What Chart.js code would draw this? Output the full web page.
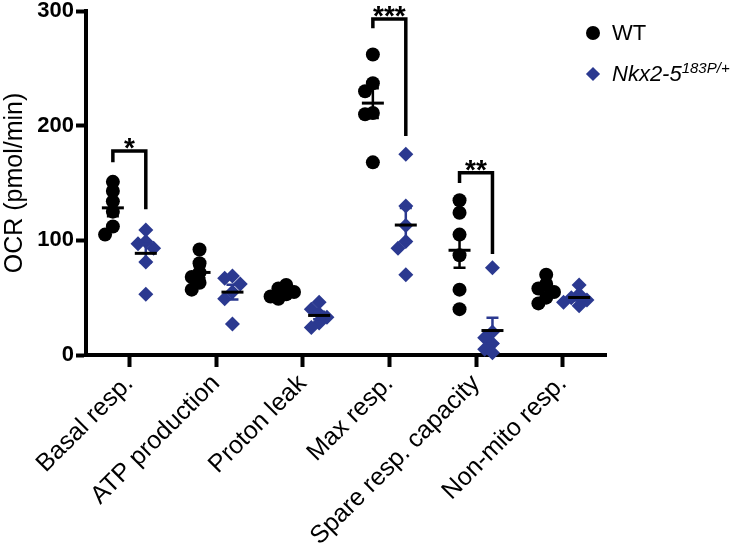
<!DOCTYPE html>
<html>
<head>
<meta charset="utf-8">
<script src="https://cdn.jsdelivr.net/npm/chart.js@4/dist/chart.umd.min.js"></script>
<style>
  body { margin: 0; background: #fff; }
  #wrap { position: relative; width: 742px; height: 549px; }
  #legend { font-family: "Liberation Sans", Arial, sans-serif; color: #000; }
  .mark { position: absolute; }
  .txt { position: absolute; font-size: 22px; line-height: 22px; white-space: nowrap; }
  .txt sup { font-size: 15px; vertical-align: 8px; line-height: 0; }
</style>
</head>
<body>
<div id="wrap">
  <canvas id="myChart" width="742" height="549"></canvas>
  <div id="legend">
    <div class="mark" style="left:586px;top:26px;width:14px;height:14px;border-radius:50%;background:#000;"></div>
    <div class="txt" style="left:612px;top:22px;">WT</div>
    <div class="mark" style="left:588px;top:69px;width:10px;height:10px;background:#2b3990;transform:rotate(45deg);"></div>
    <div class="txt" style="left:612px;top:63px;"><i>Nkx2-5</i><sup><i>183P/+</i></sup></div>
  </div>
</div>
<script>
const categories = ["Basal resp.", "ATP production", "Proton leak", "Max resp.", "Spare resp. capacity", "Non-mito resp."];
const wtValues = [
  [151, 143, 134, 125, 112, 105],
  [92, 80, 72, 68, 63, 57],
  [61, 58, 55, 53, 51, 49],
  [262, 237, 230, 211, 210, 168],
  [135, 124, 105, 87, 57, 40],
  [70, 62, 58, 55, 50, 45]
];
const mutValues = [
  [109, 99, 97, 93, 81, 53],
  [69, 67, 62, 55, 49, 27],
  [46, 40, 36, 33, 28, 24],
  [175, 130, 113, 99, 93, 70],
  [76, 20, 15, 10, 5, 2],
  [61, 53, 50, 48, 46, 43]
];
const yTicks = [0, 100, 200, 300];

// significance brackets
const sigCategory = [0, 3, 4];
const sigLabels = ["*", "***", "**"];
const sigTop = [178, 293, 159];
const sigLeftEnd = [168, 285, 150];
const sigRightEnd = [127, 191, 88];

const blue = "#2b3990";
const font = "'Liberation Sans', Arial, sans-serif";
const groupOffset = 0.19;

const mean = a => a.reduce((s, v) => s + v, 0) / a.length;
const sem = a => {
  const m = mean(a);
  const sd = Math.sqrt(a.reduce((s, v) => s + (v - m) * (v - m), 0) / (a.length - 1));
  return sd / Math.sqrt(a.length);
};

// simple beeswarm so overlapping dots spread sideways
function swarm(values, center) {
  const placed = [];
  return values.map(v => {
    for (const s of [0, -1, 1, -2, 2]) {
      const x = center + s * 0.09;
      const hit = placed.some(p => Math.abs(p.y - v) < 8 && Math.abs(p.x - x) < 0.05);
      if (!hit) { placed.push({x: x, y: v}); return {x: x, y: v}; }
    }
    return {x: center, y: v};
  });
}

const wtPoints = wtValues.flatMap((arr, i) => swarm(arr, i - groupOffset));
const mutPoints = mutValues.flatMap((arr, i) => swarm(arr, i + groupOffset));

const statsPlugin = {
  id: 'stats',
  afterDatasetsDraw(chart) {
    const {ctx, scales: {x, y}} = chart;
    ctx.save();
    ctx.lineCap = 'butt';
    [[wtValues, -groupOffset, '#000'], [mutValues, groupOffset, blue]].forEach(([vals, off, col]) => {
      vals.forEach((arr, i) => {
        const m = mean(arr), s = sem(arr);
        const px = x.getPixelForValue(i + off);
        const top = y.getPixelForValue(m + s), bot = y.getPixelForValue(m - s);
        ctx.strokeStyle = col;
        ctx.lineWidth = 2.5;
        ctx.beginPath();
        ctx.moveTo(px, top); ctx.lineTo(px, bot);
        ctx.moveTo(px - 6, top); ctx.lineTo(px + 6, top);
        ctx.moveTo(px - 6, bot); ctx.lineTo(px + 6, bot);
        ctx.stroke();
        ctx.strokeStyle = '#000';
        ctx.lineWidth = 3;
        ctx.beginPath();
        const my = y.getPixelForValue(m);
        ctx.moveTo(px - 11, my); ctx.lineTo(px + 11, my);
        ctx.stroke();
      });
    });
    // brackets
    ctx.strokeStyle = '#000';
    ctx.lineWidth = 3.5;
    ctx.lineJoin = 'miter';
    ctx.fillStyle = '#000';
    ctx.font = "bold 28px " + font;
    ctx.textAlign = 'center';
    ctx.textBaseline = 'alphabetic';
    sigCategory.forEach((c, k) => {
      const xl = x.getPixelForValue(c - groupOffset);
      const xr = x.getPixelForValue(c + groupOffset);
      const yt = y.getPixelForValue(sigTop[k]);
      ctx.beginPath();
      ctx.moveTo(xl, y.getPixelForValue(sigLeftEnd[k]));
      ctx.lineTo(xl, yt);
      ctx.lineTo(xr, yt);
      ctx.lineTo(xr, y.getPixelForValue(sigRightEnd[k]));
      ctx.stroke();
      ctx.fillText(sigLabels[k], (xl + xr) / 2, yt + 6);
    });
    ctx.restore();
  }
};

new Chart(document.getElementById('myChart'), {
  type: 'scatter',
  data: {
    datasets: [{
      label: 'WT',
      data: wtPoints,
      pointStyle: 'circle',
      pointRadius: 7,
      backgroundColor: '#000',
      borderColor: '#000',
      borderWidth: 0,
      clip: false
    }, {
      label: 'Nkx2-5 183P/+',
      data: mutPoints,
      pointStyle: 'rectRot',
      pointRadius: 7.5,
      backgroundColor: blue,
      borderColor: blue,
      borderWidth: 0,
      clip: false
    }]
  },
  options: {
    responsive: false,
    animation: false,
    layout: { padding: { top: 11, right: 136, left: 0, bottom: 0 } },
    plugins: {
      legend: { display: false },
      tooltip: { enabled: false }
    },
    scales: {
      x: {
        type: 'linear',
        min: -0.5,
        max: 5.5,
        afterBuildTicks: axis => { axis.ticks = categories.map((c, i) => ({value: i})); },
        afterFit: axis => { axis.height = 194; },
        grid: { display: true, drawOnChartArea: false, drawTicks: true, tickLength: 12, tickWidth: 4, tickColor: '#000' },
        border: { display: true, width: 4, color: '#000' },
        ticks: {
          autoSkip: false,
          minRotation: 45,
          maxRotation: 45,
          padding: 2,
          color: '#000',
          font: { family: font, size: 25 },
          callback: v => categories[v]
        }
      },
      y: {
        min: 0,
        max: 300,
        afterBuildTicks: axis => { axis.ticks = yTicks.map(v => ({value: v})); },
        afterFit: axis => { axis.width = 86; },
        grid: { display: true, drawOnChartArea: false, drawTicks: true, tickLength: 10, tickWidth: 4, tickColor: '#000' },
        border: { display: true, width: 4, color: '#000' },
        ticks: {
          padding: 2,
          color: '#000',
          font: { family: font, size: 22, weight: 'bold', lineHeight: 0.8 }
        },
        title: {
          display: true,
          text: 'OCR (pmol/min)',
          color: '#000',
          padding: 0,
          font: { family: font, size: 25 }
        }
      }
    }
  },
  plugins: [statsPlugin]
});
</script>
</body>
</html>
